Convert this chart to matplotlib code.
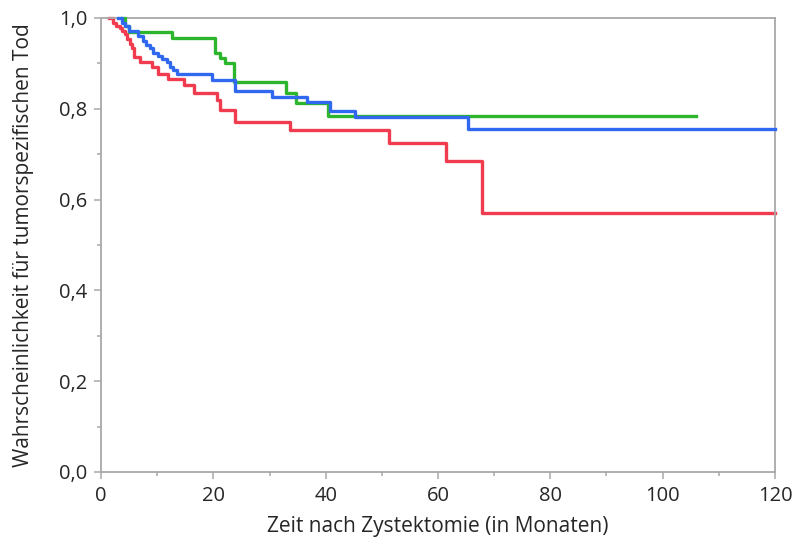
import matplotlib
matplotlib.use("Agg")
import matplotlib.pyplot as plt
from matplotlib.ticker import MultipleLocator

plt.rcParams['font.family'] = ['Open Sans', 'DejaVu Sans']

# Kaplan-Meier steps (time in months, value from that time on)
red_t = [1.4, 2.2, 2.7, 3.3, 3.7, 4.3, 4.6, 5.2, 5.5, 5.8, 6.9, 9.0, 10.2, 12.0,
         14.7, 16.6, 20.6, 21.2, 23.9, 33.6, 51.2, 61.5, 67.8, 120]
red_s = [1.0, 0.990, 0.983, 0.979, 0.972, 0.965, 0.954, 0.943, 0.935, 0.913,
         0.903, 0.892, 0.877, 0.866, 0.852, 0.834, 0.820, 0.797, 0.772, 0.753,
         0.724, 0.684, 0.570, 0.570]

blue_t = [3.1, 3.7, 4.3, 4.9, 6.6, 7.5, 8.1, 8.7, 9.3, 10.2, 10.8, 11.7, 12.3,
          12.9, 13.5, 19.7, 23.9, 30.4, 36.6, 40.8, 45.2, 65.4, 120]
blue_s = [1.0, 0.990, 0.983, 0.972, 0.960, 0.950, 0.941, 0.933, 0.924, 0.917,
          0.910, 0.902, 0.893, 0.885, 0.876, 0.863, 0.840, 0.827, 0.816, 0.796,
          0.781, 0.755, 0.755]

green_t = [3.7, 4.3, 4.9, 12.6, 20.3, 21.2, 22.1, 23.6, 33.0, 34.8, 40.4, 106]
green_s = [1.0, 0.983, 0.970, 0.955, 0.922, 0.911, 0.900, 0.860, 0.834, 0.812,
           0.784, 0.784]

x_ticks = [0, 20, 40, 60, 80, 100, 120]
y_ticks = [0.0, 0.2, 0.4, 0.6, 0.8, 1.0]
y_labels = ["0,0", "0,2", "0,4", "0,6", "0,8", "1,0"]

fig = plt.figure(figsize=(7.96, 5.46), dpi=100)
ax = fig.add_axes([101 / 796, 74 / 546, 674 / 796, 454 / 546])

ax.step(green_t, green_s, where="post", color="#2db52d", lw=2.4, clip_on=False, zorder=3)
ax.step(blue_t, blue_s, where="post", color="#3068f0", lw=2.4, clip_on=False, zorder=4)
ax.step(red_t, red_s, where="post", color="#f03c4e", lw=2.4, clip_on=False, zorder=2)

ax.set_xlim(0, 120)
ax.set_ylim(0, 1)
ax.set_xticks(x_ticks)
ax.set_yticks(y_ticks)
ax.set_yticklabels(y_labels)
ax.xaxis.set_minor_locator(MultipleLocator(10))
ax.yaxis.set_minor_locator(MultipleLocator(0.1))

for sp in ax.spines.values():
    sp.set_color("#a8a8a8")
    sp.set_linewidth(1.3)

ax.tick_params(which="major", direction="out", length=5, width=1.1, color="#a8a8a8",
               labelsize=14.5, labelcolor="#262626", pad=5)
ax.tick_params(which="minor", direction="out", length=3, width=1.1, color="#a8a8a8")

ax.set_xlabel("Zeit nach Zystektomie (in Monaten)", fontsize=15, color="#262626", labelpad=7)
ax.set_ylabel("Wahrscheinlichkeit für tumorspezifischen Tod", fontsize=15,
              color="#262626", labelpad=18)

fig.savefig("out.png", dpi=100)
